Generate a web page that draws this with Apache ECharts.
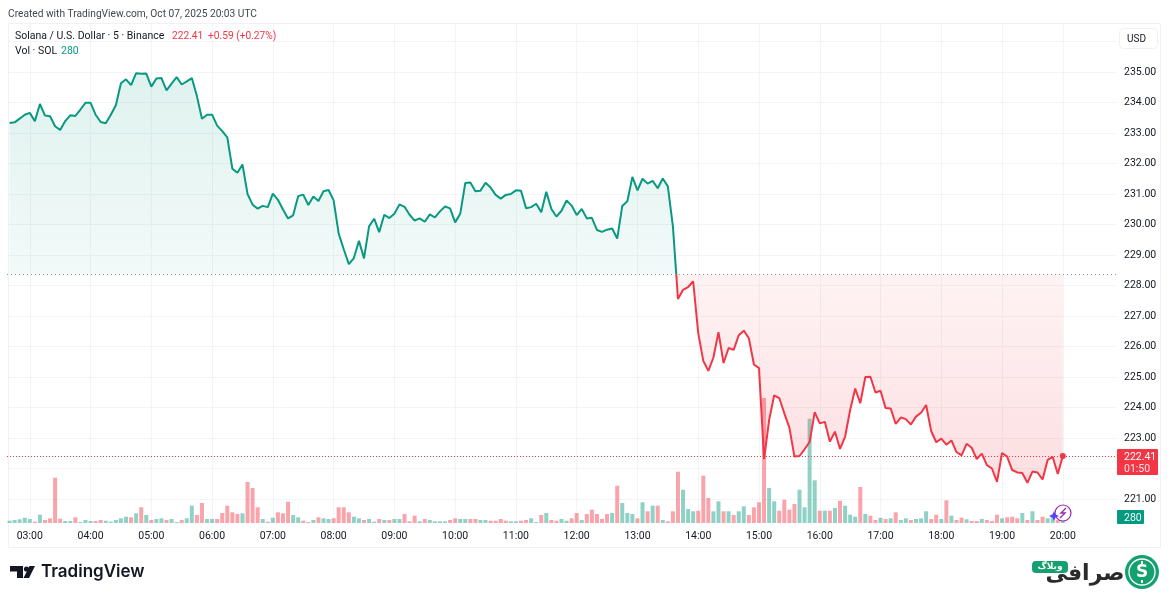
<!DOCTYPE html>
<html lang="en">

<head>
  <meta charset="UTF-8">
  <title>Solana / U.S. Dollar</title>
  <style>
    html, body { margin: 0; background: #fff; }
    #chart { width: 1172px; height: 597px; }
  </style>
</head>

<body>
  <div id="chart"></div>
  <script src="https://cdn.jsdelivr.net/npm/echarts@6/dist/echarts.min.js"></script>
  <script>
    // 5 minute closes from 02:40 to 20:00
    const closes = [
      233.33, 233.35, 233.47, 233.60, 233.66, 233.39, 233.95, 233.57, 233.55, 233.22,
      233.10, 233.39, 233.58, 233.56, 233.77, 233.99, 233.99, 233.60, 233.36, 233.32,
      233.60, 233.91, 234.63, 234.76, 234.57, 234.96, 234.94, 234.95, 234.52, 234.79,
      234.80, 234.40, 234.62, 234.83, 234.59, 234.69, 234.80, 234.21, 233.47, 233.60,
      233.60, 233.24, 233.06, 232.86, 231.83, 231.70, 231.97, 231.00, 230.65, 230.52,
      230.61, 230.57, 231.01, 230.81, 230.49, 230.20, 230.30, 230.93, 230.98, 230.64,
      230.92, 230.77, 231.09, 231.13, 230.79, 229.70, 229.19, 228.70, 228.90, 229.47,
      228.89, 229.94, 230.19, 229.75, 230.32, 230.21, 230.35, 230.66, 230.58, 230.32,
      230.13, 230.20, 230.09, 230.33, 230.23, 230.43, 230.59, 230.53, 230.07, 230.35,
      231.36, 231.38, 231.09, 231.11, 231.37, 231.21, 230.97, 230.85, 230.97, 231.00,
      231.12, 231.11, 230.53, 230.57, 230.68, 230.40, 231.07, 230.51, 230.26, 230.45,
      230.79, 230.62, 230.31, 230.51, 230.20, 230.22, 229.82, 229.76, 229.83, 229.87,
      229.54, 230.61, 230.76, 231.56, 231.12, 231.50, 231.34, 231.43, 231.19, 231.51,
      231.25, 229.94, 227.56, 227.86, 227.95, 228.14, 226.44, 225.53, 225.20, 225.64,
      226.47, 225.46, 225.95, 225.89, 226.37, 226.52, 226.27, 225.41, 225.29, 222.31,
      223.59, 224.40, 224.31, 223.81, 223.34, 222.39, 222.41, 222.63, 222.87, 223.85,
      223.48, 223.53, 222.88, 223.21, 222.64, 223.04, 223.92, 224.62, 224.14, 225.00,
      225.01, 224.49, 224.55, 223.98, 223.97, 223.46, 223.67, 223.62, 223.44, 223.70,
      223.83, 224.08, 223.23, 222.86, 222.98, 222.78, 222.92, 222.54, 222.43, 222.81,
      222.68, 222.31, 222.49, 222.11, 222.00, 221.56, 222.51, 222.39, 221.95, 221.87,
      221.85, 221.53, 221.90, 221.87, 221.64, 222.28, 222.38, 221.82, 222.41
    ]
    const volumes = [
      230, 300, 370, 530, 400, 130, 830, 300, 470, 4530,
      430, 200, 200, 570, 100, 300, 200, 200, 300, 230,
      130, 300, 470, 630, 570, 970, 1570, 800, 300, 400,
      470, 300, 400, 100, 300, 470, 1730, 800, 2000, 400,
      400, 400, 1000, 1730, 1070, 900, 970, 4100, 3500, 1570,
      400, 130, 530, 1070, 970, 2130, 800, 570, 230, 100,
      300, 570, 470, 400, 470, 1570, 1570, 1070, 630, 470,
      300, 400, 130, 400, 300, 300, 400, 400, 900, 170,
      730, 170, 400, 300, 170, 170, 170, 300, 470, 400,
      400, 400, 400, 300, 300, 230, 230, 400, 230, 170,
      170, 230, 300, 470, 100, 800, 1000, 300, 230, 400,
      230, 470, 1000, 300, 900, 1330, 900, 400, 900, 1000,
      3730, 2000, 1000, 900, 470, 2070, 1170, 1730, 1730, 300,
      170, 1170, 5130, 3330, 1400, 1170, 1230, 4730, 2500, 1170,
      2170, 1170, 1170, 800, 1170, 1670, 800, 1570, 2070, 12500,
      3500, 2170, 1230, 2330, 1330, 1900, 3330, 1570, 10430, 4270,
      1230, 1230, 1230, 1500, 2230, 1730, 830, 630, 3600, 900,
      730, 300, 530, 400, 470, 1070, 300, 470, 300, 400,
      470, 1170, 400, 830, 400, 2270, 730, 300, 530, 370,
      200, 200, 400, 300, 200, 830, 470, 570, 630, 470,
      1000, 300, 1170, 300, 630, 470, 830, 300, 280
    ]
    // 1 = up bar, 0 = down bar
    const volumeUp = [
      1, 1, 1, 1, 1, 0, 1, 0, 0, 0,
      0, 1, 1, 0, 1, 1, 1, 0, 0, 1,
      1, 1, 1, 1, 0, 1, 0, 1, 0, 1,
      1, 0, 1, 1, 0, 1, 1, 0, 0, 1,
      1, 0, 0, 0, 0, 0, 1, 0, 0, 0,
      1, 0, 1, 0, 0, 0, 1, 1, 0, 0,
      1, 0, 1, 1, 0, 0, 0, 0, 1, 1,
      0, 1, 1, 0, 1, 0, 1, 1, 0, 0,
      0, 1, 0, 1, 1, 1, 1, 0, 0, 1,
      1, 0, 0, 1, 1, 0, 0, 0, 0, 1,
      1, 0, 0, 1, 1, 0, 1, 0, 0, 1,
      1, 0, 0, 1, 0, 0, 0, 0, 0, 1,
      0, 1, 1, 1, 0, 1, 0, 1, 0, 1,
      0, 0, 0, 1, 1, 1, 0, 0, 0, 1,
      1, 0, 1, 0, 1, 1, 0, 0, 0, 0,
      1, 1, 0, 0, 0, 0, 1, 1, 1, 1,
      0, 1, 0, 1, 0, 1, 1, 1, 0, 1,
      0, 0, 1, 0, 1, 0, 1, 1, 0, 1,
      1, 1, 0, 0, 1, 0, 1, 0, 0, 1,
      0, 0, 1, 0, 0, 0, 1, 0, 0, 0,
      1, 0, 1, 0, 0, 1, 1, 0, 1
    ]
    const priceTicks = [235, 234, 233, 232, 231, 230, 229, 228, 227, 226, 225, 224, 223, 221]
    const baseValue = 228.38
    const lastPrice = 222.41
    const lastVolume = 280

    const UP = '#089981'
    const DOWN = '#f23645'
    const GRID = '#f3f4f7'
    const INK = '#131722'
    const FONT = 'Roboto, "Noto Sans", sans-serif'

    // time slots 02:40 ... 20:50, the last ones are the empty space on the right
    const times = []
    for (let i = 0; i < 219; i++) {
      const m = 160 + i * 5
      times.push(String(Math.floor(m / 60)).padStart(2, '0') + ':' + String(m % 60).padStart(2, '0'))
    }
    const onTheHour = (i, value) => value.endsWith(':00')

    const hi = Math.max(...closes)
    const lo = Math.min(...closes)
    const split = (hi - baseValue) / (hi - lo)

    const gridBox = { left: 7, width: 1109 }

    const option = {
      animation: false,
      backgroundColor: '#fff',
      textStyle: { fontFamily: FONT },
      grid: [
        { ...gridBox, top: 41.5, height: 488 },
        { ...gridBox, top: 23, height: 500 }
      ],
      xAxis: [
        {
          type: 'category', gridIndex: 0, data: times, show: false
        },
        {
          type: 'category', gridIndex: 1, data: times,
          axisLine: { show: false },
          axisTick: { show: false },
          axisLabel: { interval: onTheHour, color: INK, fontSize: 10.5, margin: 8, fontFamily: FONT },
          splitLine: { show: true, interval: onTheHour, alignWithLabel: true, lineStyle: { color: GRID } }
        }
      ],
      yAxis: [
        {
          type: 'value', gridIndex: 0, position: 'right', min: 220, max: 236, interval: 1,
          axisLine: { show: false },
          axisTick: { show: false },
          axisLabel: {
            color: INK, fontSize: 10.5, margin: 8, fontFamily: FONT, padding: [2, 0, 0, 0],
            formatter: v => priceTicks.includes(v) ? v.toFixed(2) : ''
          },
          splitLine: { show: true, showMinLine: false, lineStyle: { color: GRID } }
        },
        {
          type: 'value', gridIndex: 1, min: 0, max: 50000, show: false
        }
      ],
      series: [
        {
          type: 'bar', xAxisIndex: 1, yAxisIndex: 1, data: volumes, barWidth: 4, z: 1, silent: true,
          itemStyle: { color: p => volumeUp[p.dataIndex] ? 'rgba(8,153,129,0.45)' : 'rgba(242,54,69,0.45)' }
        },
        {
          type: 'line', xAxisIndex: 0, yAxisIndex: 0, data: closes, z: 3, silent: true,
          showSymbol: true, showAllSymbol: true,
          symbol: (v, p) => p.dataIndex === closes.length - 1 ? 'circle' : 'none',
          symbolSize: 6,
          itemStyle: { color: DOWN },
          lineStyle: {
            width: 2,
            color: new echarts.graphic.LinearGradient(0, 0, 0, 1, [
              { offset: 0, color: UP },
              { offset: split, color: UP },
              { offset: split, color: DOWN },
              { offset: 1, color: DOWN }
            ])
          },
          areaStyle: {
            origin: baseValue,
            opacity: 1,
            color: new echarts.graphic.LinearGradient(0, 0, 0, 1, [
              { offset: 0, color: 'rgba(8,153,129,0.13)' },
              { offset: split, color: 'rgba(8,153,129,0.05)' },
              { offset: split, color: 'rgba(242,54,69,0.06)' },
              { offset: 1, color: 'rgba(242,54,69,0.16)' }
            ])
          },
          markLine: {
            silent: true, symbol: 'none', label: { show: false }, animation: false,
            data: [
              { yAxis: baseValue, lineStyle: { color: '#9598a1', type: [1, 3], width: 1 } },
              { yAxis: lastPrice, lineStyle: { color: DOWN, type: [1, 2], width: 1 } }
            ]
          }
        }
      ]
    }

    const chart = echarts.init(document.getElementById('chart'), null, { renderer: 'canvas' })
    chart.setOption(option)

    const text = (x, y, str, font, fill, extra) => ({
      type: 'text', z: 20, silent: true,
      style: { x, y, text: str, font, fill, verticalAlign: 'middle', ...extra }
    })
    const font = `10.5px ${FONT}`
    const smallFont = `10.2px ${FONT}`

    // price and volume tags sit on the scales, the rest is page furniture
    const priceY = chart.convertToPixel({ yAxisIndex: 0 }, lastPrice)
    const volY = 517

    chart.setOption({
      graphic: [
        { type: 'rect', z: 0, silent: true, shape: { x: 8.5, y: 23.5, width: 1152, height: 524 }, style: { fill: 'none', stroke: '#f0f1f5' } },
        text(8, 14, 'Created with TradingView.com, Oct 07, 2025 20:03 UTC', smallFont, '#434651'),
        text(15, 36, 'Solana / U.S. Dollar · 5 · Binance', font, INK),
        text(172, 36, '222.41', smallFont, DOWN),
        text(208, 36, '+0.59 (+0.27%)', smallFont, DOWN),
        text(15, 51, 'Vol · SOL', font, INK),
        text(61, 51, '280', font, UP),

        { type: 'rect', z: 20, silent: true, shape: { x: 1119.5, y: 28.5, width: 38, height: 20, r: 4 }, style: { fill: '#fff', stroke: '#f0f1f5' } },
        text(1127, 39, 'USD', '10px ' + FONT, INK),

        { type: 'rect', z: 20, silent: true, shape: { x: 1117, y: priceY - 7, width: 41, height: 26, r: 1 }, style: { fill: DOWN } },
        text(1124, priceY + 1, lastPrice.toFixed(2), font, '#fff'),
        text(1124, priceY + 13, '01:50', font, '#ffe3e5'),
        { type: 'rect', z: 20, silent: true, shape: { x: 1117, y: volY - 7, width: 27, height: 14, r: 1 }, style: { fill: UP } },
        text(1124, volY + 1, String(lastVolume), font, '#eefaf7'),

        // purple flash badge over the last bars
        { type: 'circle', z: 20, silent: true, shape: { cx: 1063, cy: 513, r: 8 }, style: { fill: 'rgba(255,255,255,0.75)', stroke: '#9c27b0', lineWidth: 1.2 } },
        { type: 'polyline', z: 21, silent: true, shape: { points: [[1066, 508], [1061, 513], [1065, 513], [1060, 518]] }, style: { fill: 'none', stroke: '#9c27b0', lineWidth: 1.4 } },
        { type: 'polygon', z: 21, silent: true, shape: { points: [[1054, 511], [1055.5, 514.5], [1059, 516], [1055.5, 517.5], [1054, 521], [1052.5, 517.5], [1049, 516], [1052.5, 514.5]] }, style: { fill: '#5b3ff5' } },

        // TradingView mark
        { type: 'polygon', z: 20, silent: true, shape: { points: [[10, 566], [23, 566], [23, 578], [17, 578], [17, 571.5], [10, 571.5]] }, style: { fill: INK } },
        { type: 'circle', z: 20, silent: true, shape: { cx: 26.5, cy: 569, r: 2.6 }, style: { fill: INK } },
        { type: 'polygon', z: 20, silent: true, shape: { points: [[29.5, 566], [35, 566], [29, 578], [23.5, 578]] }, style: { fill: INK } },
        text(41, 572, 'TradingView', '600 17px Inter, ' + FONT, INK),

        // watermark
        { type: 'rect', z: 20, silent: true, shape: { x: 1032, y: 561, width: 36, height: 12, r: 4 }, style: { fill: '#14a06f' } },
        text(1050, 567, 'وبلاگ', 'bold 9px "DejaVu Sans"', '#fff', { align: 'center' }),
        text(1085, 574, 'صرافی', 'bold 22px "DejaVu Sans"', '#2b2b2b', { align: 'center' }),
        { type: 'circle', z: 20, silent: true, shape: { cx: 1142, cy: 572, r: 17 }, style: { fill: '#14a06f' } },
        { type: 'circle', z: 20, silent: true, shape: { cx: 1142, cy: 572, r: 13 }, style: { fill: '#14a06f', stroke: '#fff', lineWidth: 1.3 } },
        text(1142, 573, 'S', 'bold 17px "DejaVu Sans"', '#fff', { align: 'center' }),
        { type: 'rect', z: 20, silent: true, shape: { x: 1141, y: 561, width: 2, height: 3 }, style: { fill: '#fff' } },
        { type: 'rect', z: 20, silent: true, shape: { x: 1141, y: 580, width: 2, height: 3 }, style: { fill: '#fff' } }
      ]
    })
  </script>
</body>

</html>
